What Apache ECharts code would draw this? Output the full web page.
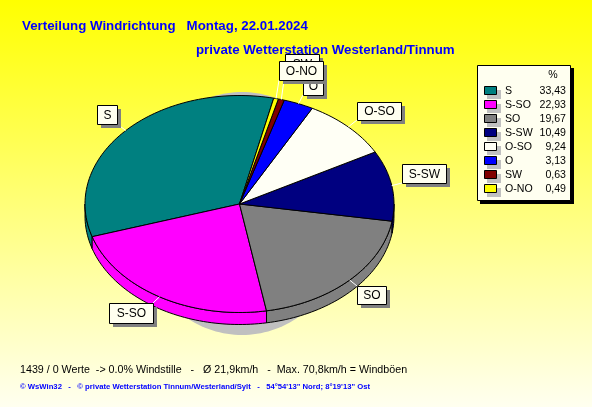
<!DOCTYPE html>
<html><head><meta charset="utf-8">
<style>html,body{margin:0;padding:0;background:#fff}#c{width:592px;height:407px}</style>
<script src="https://cdn.jsdelivr.net/npm/echarts@6/dist/echarts.min.js"></script>
</head><body><div id="c"></div>
<script>
const categories = ['S','S-SO','SO','S-SW','O-SO','O','SW','O-NO'];
const values = [33.43,22.93,19.67,10.49,9.24,3.13,0.63,0.49];
const valueLabels = ['33,43','22,93','19,67','10,49','9,24','3,13','0,63','0,49'];
const colors = ['#008080','#ff00ff','#808080','#000080','#fffff5','#0000ff','#800000','#ffff00'];
const titleLine1 = 'Verteilung Windrichtung   Montag, 22.01.2024';
const titleLine2 = 'private Wetterstation Westerland/Tinnum';
const footerLine1 = '1439 / 0 Werte  -> 0.0% Windstille   -   Ø 21,9km/h   -  Max. 70,8km/h = Windböen';
const footerLine2 = '© WsWin32   -   © private Wetterstation Tinnum/Westerland/Sylt   -   54°54\'13" Nord; 8°19\'13" Ost';

// layout
const PIE = {cx:239.5, cy:204, rx:154.5, ry:108.5, depth:12, start:77.2};
const SHADOW = {cx:242, cy:213.5, rx:108, ry:121.5};
const BOXES = [[97,105,20,19],[109,303,44,20],[357,286,29,18],[402,164,44,19],[357,102,44,18],[303,77,20,18],[285,54,34,19],[279,61,44,19]];
const PAPER = '#fffff0', FONT = '"Liberation Sans",Arial,sans-serif';

const total = values.reduce((a,b)=>a+b,0);
const rad = d=>d*Math.PI/180;
const pt = (deg,dy=0)=>[PIE.cx+PIE.rx*Math.cos(rad(deg)), PIE.cy-PIE.ry*Math.sin(rad(deg))+dy];
function arc(a,b,dy=0){const n=Math.max(2,Math.ceil(Math.abs(b-a)/1.5));const o=[];for(let i=0;i<=n;i++)o.push(pt(a+(b-a)*i/n,dy));return o;}
function angles(i){let s=0;for(let k=0;k<i;k++)s+=values[k];return [PIE.start+s/total*360,PIE.start+(s+values[i])/total*360];}

function renderShadow(){
  const pts=[];for(let d=0;d<360;d+=2)pts.push([SHADOW.cx+SHADOW.rx*Math.cos(rad(d)),SHADOW.cy+SHADOW.ry*Math.sin(rad(d))]);
  return {type:'polygon',shape:{points:pts},style:{fill:'#c0c0c0',stroke:null},silent:true};
}
function renderSide(p,api){
  const i=p.dataIndex;const [a,b]=angles(i);const ch=[];
  for(const k of [0,360]){
    const s=Math.max(a,180+k),e=Math.min(b,360+k);
    if(e>s){ch.push({type:'polygon',shape:{points:arc(s,e).concat(arc(e,s,PIE.depth))},style:{fill:colors[i],stroke:'#000',lineWidth:1}});}
  }
  return {type:'group',children:ch,silent:true};
}
function renderFace(p,api){
  const i=p.dataIndex;const [a,b]=angles(i);
  return {type:'polygon',shape:{points:[[PIE.cx,PIE.cy]].concat(arc(a,b))},style:{fill:colors[i],stroke:'#000',lineWidth:1},silent:true};
}
function renderLabel(p,api){
  const i=p.dataIndex;const [a,b]=angles(i);const m=pt((a+b)/2);const [x,y,w,h]=BOXES[i];
  const lx=Math.max(x,Math.min(x+w,m[0])),ly=Math.max(y,Math.min(y+h,m[1]));
  return {type:'group',silent:true,children:[
    {type:'line',shape:{x1:m[0],y1:m[1],x2:lx,y2:ly},style:{stroke:'#fff',lineWidth:1}},
    {type:'rect',shape:{x:x+4,y:y+4,width:w,height:h},style:{fill:'#808080'}},
    {type:'rect',shape:{x:x+.5,y:y+.5,width:w,height:h},style:{fill:PAPER,stroke:'#000',lineWidth:1}},
    {type:'text',style:{x:x+w/2+.5,y:y+h/2+1,text:categories[i],align:'center',verticalAlign:'middle',font:'12px '+FONT,fill:'#000'}}
  ]};
}
function renderLegendRow(p,api){
  const i=p.dataIndex;const y=91+i*14;
  return {type:'group',silent:true,children:[
    {type:'rect',shape:{x:487,y:y-1,width:14,height:9},style:{fill:'#c0c0c0'}},
    {type:'rect',shape:{x:484.5,y:y-4.5,width:12,height:8},style:{fill:colors[i],stroke:'#000',lineWidth:1}},
    {type:'text',style:{x:505,y:y+.5,text:categories[i],align:'left',verticalAlign:'middle',font:'10.6px '+FONT,fill:'#000'}},
    {type:'text',style:{x:566,y:y+.5,text:valueLabels[i],align:'right',verticalAlign:'middle',font:'10.6px '+FONT,fill:'#000'}}
  ]};
}
function renderLegendBox(){
  return {type:'group',silent:true,children:[
    {type:'rect',shape:{x:480,y:68,width:94,height:136},style:{fill:'#000'}},
    {type:'rect',shape:{x:477.5,y:65.5,width:93,height:135},style:{fill:PAPER,stroke:'#000',lineWidth:1}},
    {type:'text',style:{x:553,y:75.5,text:'%',align:'center',verticalAlign:'middle',font:'10.6px '+FONT,fill:'#000'}}
  ]};
}
const rows = values.map((v,i)=>({name:categories[i],value:[v]}));
const chart = echarts.init(document.getElementById('c'),null,{renderer:'canvas',width:592,height:407});
const T=(text,left,top,size,weight,color)=>({text,left,top,padding:0,itemGap:0,textStyle:{fontFamily:FONT,fontSize:size,fontWeight:weight,color}});
chart.setOption({
  animation:false,
  backgroundColor:new echarts.graphic.LinearGradient(0,0,0,1,[{offset:0,color:'#ffff00'},{offset:1,color:'#fffff0'}]),
  title:[
    T(titleLine1,22,20,13.3,'bold','#0000ff'),
    T(titleLine2,196,44,13.3,'bold','#0000ff'),
    T(footerLine1,20,365,10.7,'normal','#000000'),
    T(footerLine2,20,383,7.7,'bold','#0000ff')
  ],
  series:[
    {type:'custom',coordinateSystem:'none',z:1,data:[[1]],renderItem:renderShadow},
    {type:'custom',coordinateSystem:'none',z:2,data:rows,renderItem:renderSide},
    {type:'custom',coordinateSystem:'none',z:3,data:rows,renderItem:renderFace},
    {type:'custom',coordinateSystem:'none',z:4,data:rows,renderItem:renderLabel},
    {type:'custom',coordinateSystem:'none',z:5,data:[[1]],renderItem:renderLegendBox},
    {type:'custom',coordinateSystem:'none',z:6,data:rows,renderItem:renderLegendRow}
  ]
});
</script></body></html>
